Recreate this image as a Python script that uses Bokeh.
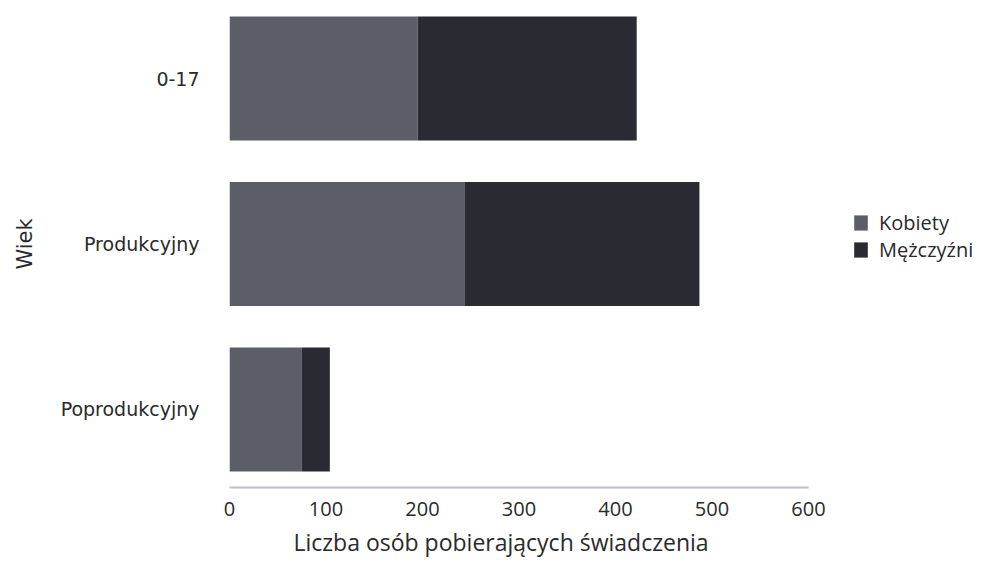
from bokeh.plotting import figure
from bokeh.models import FactorRange, Range1d, FixedTicker, Legend, LegendItem, Title
from bokeh.embed import file_html
from bokeh.resources import INLINE

categories = ["0-17", "Produkcyjny", "Poprodukcyjny"]
kobiety = [195, 244, 75]
mezczyzni = [227, 243, 29]
series_names = ["Kobiety", "Mężczyźni"]
x_ticks = [0, 100, 200, 300, 400, 500, 600]
x_title = "Liczba osób pobierających świadczenia"

colors = ["#5b5e67", "#2a2b32"]

# frame extends past 600 to host the legend; axis line limited to 0..600
y_range = FactorRange(factors=list(reversed(categories)), range_padding=-0.019)
p = figure(frame_width=749, frame_height=487, y_range=y_range, x_range=Range1d(0, 776.2),
           output_backend="svg", toolbar_location=None)

data = dict(cat=categories, k=kobiety, m=mezczyzni)
r = p.hbar_stack(["k", "m"], y="cat", height=0.75, source=data,
                 color=colors, line_color=None)

p.min_border_left = 229
p.min_border_right = 0
p.min_border_top = 0
p.min_border_bottom = 0
p.outline_line_color = None
p.xgrid.grid_line_color = None
p.ygrid.grid_line_color = None
p.background_fill_color = "white"

p.xaxis.bounds = (0, 600)
p.xaxis.ticker = FixedTicker(ticks=x_ticks)
p.xaxis.axis_line_color = "#b9c1ca"
p.xaxis.axis_line_width = 2
p.xaxis.major_tick_line_color = None
p.xaxis.minor_tick_line_color = None
p.xaxis.major_label_text_font = "Open Sans"
p.xaxis.major_label_text_font_size = "20px"
p.xaxis.major_label_text_color = "#2a2a2a"
p.xaxis.major_label_standoff = 8

title = Title(text=x_title, align="left", offset=64, standoff=10,
              text_font="Open Sans", text_font_style="normal",
              text_font_size="23px", text_color="#2a2a2a")
p.add_layout(title, "below")

p.yaxis.axis_line_color = None
p.yaxis.major_tick_line_color = None
p.yaxis.minor_tick_line_color = None
p.yaxis.major_label_text_font = "DejaVu Sans"
p.yaxis.major_label_text_font_size = "19px"
p.yaxis.major_label_text_color = "#2a2a2a"
p.yaxis.major_label_standoff = 24
p.yaxis.axis_label = "Wiek"
p.yaxis.axis_label_text_font = "DejaVu Sans"
p.yaxis.axis_label_text_font_style = "normal"
p.yaxis.axis_label_text_font_size = "21px"
p.yaxis.axis_label_text_color = "#2a2a2a"
p.yaxis.axis_label_standoff = 21

legend = Legend(items=[LegendItem(label=series_names[0], renderers=[r[0]]),
                       LegendItem(label=series_names[1], renderers=[r[1]])],
                location=(623, 224), border_line_color=None,
                background_fill_alpha=0,
                label_text_font="Open Sans", label_text_font_size="20px",
                label_text_color="#2a2a2a", glyph_width=17, glyph_height=19,
                spacing=-7, padding=0, margin=0, label_standoff=10,
                label_height=20)
p.add_layout(legend, "center")

open("out.html", "w").write(file_html(p, INLINE))
